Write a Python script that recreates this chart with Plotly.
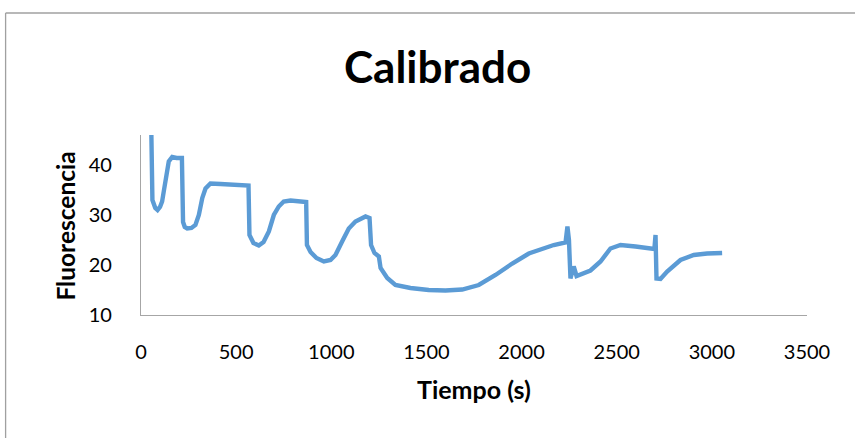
import plotly.graph_objects as go

# Values
time_s = [52, 55, 60, 75, 87, 100, 111, 120, 129, 146, 164, 187, 215, 221, 230, 243, 265, 286,
          304, 322, 339, 365, 418, 497, 565, 570, 580, 591, 619, 644, 672, 698, 724, 750, 786,
          838, 868, 872, 891, 922, 961, 996, 1022, 1057, 1092, 1127, 1162, 1180, 1201, 1209,
          1227, 1250, 1259, 1294, 1337, 1416, 1512, 1600, 1688, 1775, 1863, 1951, 2038, 2108,
          2169, 2231, 2241, 2249, 2257, 2274, 2289, 2362, 2415, 2467, 2520, 2599, 2698, 2704,
          2709, 2730, 2765, 2835, 2905, 2975, 3054]
fluor = [52.0, 36.0, 33.0, 31.4, 31.0, 31.6, 32.7, 34.8, 37.4, 40.7, 41.6, 41.4, 41.4, 28.6,
         27.6, 27.3, 27.4, 28.0, 30.0, 33.4, 35.3, 36.3, 36.2, 36.0, 35.9, 26.0, 25.0, 24.4,
         23.9, 24.6, 26.7, 30.0, 31.7, 32.7, 32.9, 32.7, 32.6, 24.0, 22.6, 21.4, 20.7, 21.0,
         22.0, 24.7, 27.3, 28.7, 29.3, 29.7, 29.4, 24.0, 22.4, 21.7, 19.4, 17.4, 16.0, 15.4,
         15.0, 14.9, 15.1, 16.0, 18.0, 20.3, 22.3, 23.3, 24.0, 24.5, 27.7, 25.0, 17.3, 19.7,
         17.8, 18.9, 20.7, 23.3, 24.0, 23.7, 23.2, 26.0, 17.3, 17.2, 18.7, 21.0, 22.0, 22.3,
         22.4]

x_ticks = [0, 500, 1000, 1500, 2000, 2500, 3000, 3500]
y_ticks = [10, 20, 30, 40]

title_text = "Calibrado"
x_title = "Tiempo (s)"
y_title = "Fluorescencia"

W, H = 855, 438
L, R, T, B = 140.5, 48, 135, 123
pw, ph = W - L - R, H - T - B

def px_to_paper_x(px):
    return (px - L) / pw

def py_to_paper_y(py):
    return (H - B - py) / ph

fig = go.Figure()
fig.add_trace(go.Scatter(x=time_s, y=fluor, mode="lines",
                         line=dict(color="#5B9BD5", width=4.4), hoverinfo="skip"))

axis_gray = "#A6A6A6"
tick_font = dict(family="Lato, Carlito, sans-serif", size=20, color="#000000")

fig.update_layout(
    width=W, height=H,
    margin=dict(l=L, r=R, t=T, b=B, pad=0),
    paper_bgcolor="#FFFFFF", plot_bgcolor="#FFFFFF",
    showlegend=False,
    xaxis=dict(range=[0, 3500], tickvals=x_ticks, ticktext=[str(v) for v in x_ticks],
               showgrid=False, zeroline=False, showline=True, linecolor=axis_gray, linewidth=1.3,
               ticks="", tickfont=tick_font, ticklabelstandoff=19),
    yaxis=dict(range=[10, 46], tickvals=y_ticks, ticktext=[str(v) for v in y_ticks],
               showgrid=False, zeroline=False, showline=True, linecolor=axis_gray, linewidth=1.3,
               ticks="", tickfont=tick_font, ticklabelstandoff=24),
    annotations=[
        dict(text="<b>%s</b>" % title_text, xref="paper", yref="paper",
             x=px_to_paper_x(437), y=py_to_paper_y(66), xanchor="center", yanchor="middle",
             showarrow=False, font=dict(family="Lato, sans-serif", size=44, color="#000000")),
        dict(text="<b>%s</b>" % x_title, xref="paper", yref="paper",
             x=px_to_paper_x(474), y=py_to_paper_y(389), xanchor="center", yanchor="middle",
             showarrow=False, font=dict(family="Lato, sans-serif", size=25, color="#000000")),
        dict(text="<b>%s</b>" % y_title, xref="paper", yref="paper", textangle=-90,
             x=px_to_paper_x(64), y=py_to_paper_y(226), xanchor="center", yanchor="middle",
             showarrow=False, font=dict(family="Lato, sans-serif", size=24.5, color="#000000")),
    ],
    shapes=[
        dict(type="line", xref="paper", yref="paper",
             x0=px_to_paper_x(5), x1=px_to_paper_x(900), y0=py_to_paper_y(13), y1=py_to_paper_y(13),
             line=dict(color="#A0A0A0", width=1.3)),
        dict(type="line", xref="paper", yref="paper",
             x0=px_to_paper_x(5), x1=px_to_paper_x(5), y0=py_to_paper_y(13), y1=py_to_paper_y(480),
             line=dict(color="#A0A0A0", width=1.3)),
    ],
)

fig.write_html("out.html", config={"displayModeBar": False},
               post_script="document.body.style.margin='0';")
